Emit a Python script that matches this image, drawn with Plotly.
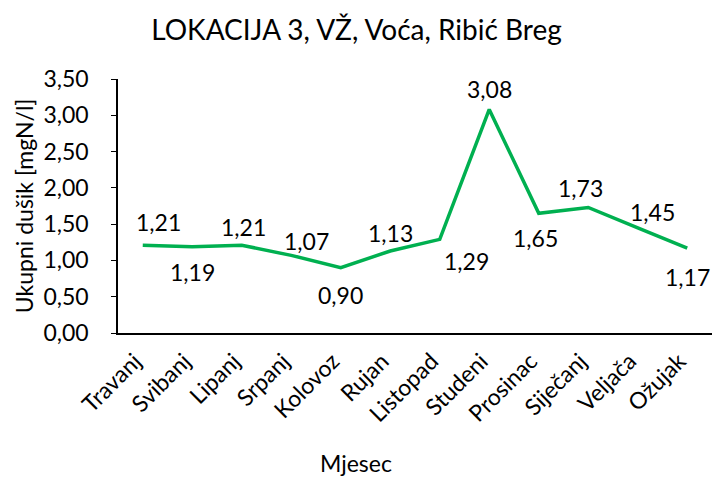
import plotly.graph_objects as go

# podaci
mjeseci = ["Travanj", "Svibanj", "Lipanj", "Srpanj", "Kolovoz", "Rujan",
           "Listopad", "Studeni", "Prosinac", "Siječanj", "Veljača", "Ožujak"]
ukupni_dusik = [1.21, 1.19, 1.21, 1.07, 0.90, 1.13, 1.29, 3.08, 1.65, 1.73, 1.45, 1.17]
y_ticks = [0, 0.5, 1.0, 1.5, 2.0, 2.5, 3.0, 3.5]

# pomak oznaka (px) kao u Excelu
label_dx = [16, 0, 2, 15, 0, 0, 27, 0, -3, -8, 15, 0]
label_dy = [23, -25, 18, 14, -27, 18, -22, 20, -25, 19, 16, -29]

FONT = "Lato"
FS = 23
GREEN = "#00B050"

fig = go.Figure()
fig.add_trace(go.Scatter(
    x=mjeseci, y=ukupni_dusik, mode="lines",
    line=dict(color=GREEN, width=3.5),
    hoverinfo="skip",
))

for m, v, dx, dy in zip(mjeseci, ukupni_dusik, label_dx, label_dy):
    fig.add_annotation(
        x=m, y=v, text=f"{v:.2f}".replace(".", ","),
        showarrow=False, xshift=dx, yshift=dy,
        font=dict(family=FONT, size=FS, color="black"),
    )

fig.add_annotation(
    text="Mjesec", xref="paper", yref="paper", x=0.4015, y=-0.512,
    xanchor="center", yanchor="middle", showarrow=False,
    font=dict(family=FONT, size=FS, color="black"),
)
fig.add_annotation(
    text="Ukupni dušik [mgN/l]", xref="paper", yref="paper", x=-0.158, y=0.5,
    xanchor="center", yanchor="middle", textangle=-90, showarrow=False,
    font=dict(family=FONT, size=FS, color="black"),
)

fig.update_layout(
    width=713, height=479,
    margin=dict(l=118, r=1, t=79, b=146),
    paper_bgcolor="white", plot_bgcolor="white",
    showlegend=False,
    title=dict(text="LOKACIJA 3, VŽ, Voća, Ribić Breg", x=0.5, xanchor="center",
               y=1 - 30 / 479, yanchor="middle",
               font=dict(family=FONT, size=28, color="black")),
    font=dict(family=FONT, size=FS, color="black"),
    xaxis=dict(
        type="category", range=[-0.5, 11.5], tickangle=-45,
        showgrid=False, showline=True, linecolor="black", linewidth=1.5,
        ticks="", ticklabelstandoff=4, ticklabelshift=-8, fixedrange=True,
    ),
    yaxis=dict(
        range=[0, 3.5], tickvals=y_ticks,
        ticktext=[f"{t:.2f}".replace(".", ",") for t in y_ticks],
        showgrid=False, zeroline=False, showline=True, linecolor="black", linewidth=1.5,
        ticks="outside", ticklen=5, tickcolor="black", ticklabelstandoff=18,
        fixedrange=True,
    ),
)

fig.write_html("out.html", config={"displayModeBar": False},
               post_script="document.body.style.margin='0';")
